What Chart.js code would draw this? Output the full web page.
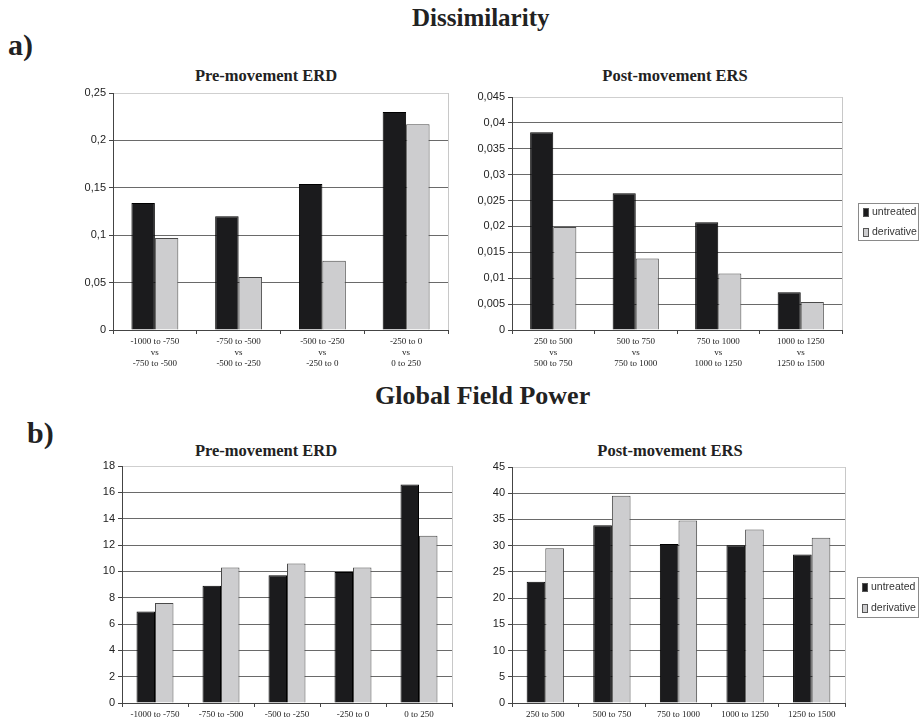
<!DOCTYPE html>
<html>
<head>
<meta charset="utf-8">
<script src="https://cdn.jsdelivr.net/npm/chart.js@4/dist/chart.umd.min.js"></script>
<style>
  body { margin: 0; background: #fff; }
  #page { position: relative; width: 920px; height: 717px; overflow: hidden; }
  canvas { position: absolute; }
  .head { position: absolute; font-family: "Liberation Serif", serif; font-weight: bold; color: #222; white-space: nowrap; }
  .sub { font-size: 16.5px; line-height: 18px; width: 240px; text-align: center; }
  .panel { font-size: 30px; line-height: 30px; }
</style>
</head>
<body>
<div id="page">
  <div class="head" style="left:412px; top:5px; font-size:25px; line-height:25px;">Dissimilarity</div>
  <div class="head panel" style="left:8px; top:30px;">a)</div>
  <div class="head" style="left:375px; top:383px; font-size:26px; line-height:26px;">Global Field Power</div>
  <div class="head panel" style="left:27px; top:418px;">b)</div>

  <div class="head sub" style="left:146px; top:67px;">Pre-movement ERD</div>
  <div class="head sub" style="left:555px; top:67px;">Post-movement ERS</div>
  <div class="head sub" style="left:146px; top:442px;">Pre-movement ERD</div>
  <div class="head sub" style="left:550px; top:442px;">Post-movement ERS</div>

  <canvas id="aPre" width="400" height="315" style="left:60px; top:55px;"></canvas>
  <canvas id="aPost" width="460" height="315" style="left:460px; top:55px;"></canvas>
  <canvas id="bPre" width="400" height="297" style="left:60px; top:420px;"></canvas>
  <canvas id="bPost" width="460" height="297" style="left:460px; top:420px;"></canvas>
</div>

<script>
// ---- data ----
const seriesNames = ["untreated", "derivative"];

const aPreLabels = [
  ["-1000 to -750", "vs", "-750 to -500"],
  ["-750 to -500", "vs", "-500 to -250"],
  ["-500 to -250", "vs", "-250 to 0"],
  ["-250 to 0", "vs", "0 to 250"]
];
const aPreUntreated = [0.134, 0.120, 0.154, 0.230];
const aPreDerivative = [0.097, 0.056, 0.073, 0.217];

const aPostLabels = [
  ["250 to 500", "vs", "500 to 750"],
  ["500 to 750", "vs", "750 to 1000"],
  ["750 to 1000", "vs", "1000 to 1250"],
  ["1000 to 1250", "vs", "1250 to 1500"]
];
const aPostUntreated = [0.0382, 0.0264, 0.0208, 0.0073];
const aPostDerivative = [0.0199, 0.0138, 0.0109, 0.0054];

const bPreLabels = ["-1000 to -750", "-750 to -500", "-500 to -250", "-250 to 0", "0 to 250"];
const bPreUntreated = [6.95, 8.9, 9.7, 9.95, 16.6];
const bPreDerivative = [7.6, 10.3, 10.6, 10.3, 12.7];

const bPostLabels = ["250 to 500", "500 to 750", "750 to 1000", "1000 to 1250", "1250 to 1500"];
const bPostUntreated = [23.1, 33.9, 30.3, 30.1, 28.3];
const bPostDerivative = [29.5, 39.5, 34.8, 33.1, 31.5];

// ---- plugins ----
// light right border of the plot, like the old spreadsheet charts
const plotFrame = {
  id: "plotFrame",
  afterDraw(chart) {
    const a = chart.chartArea;
    const ctx = chart.ctx;
    ctx.save();
    ctx.strokeStyle = "#c8c8c8";
    ctx.lineWidth = 1;
    ctx.beginPath();
    ctx.moveTo(Math.round(a.right) + 0.5, a.top);
    ctx.lineTo(Math.round(a.right) + 0.5, a.bottom);
    ctx.stroke();
    ctx.restore();
  }
};

// boxed legend at the right
const boxLegend = {
  id: "boxLegend",
  afterDraw(chart, args, opts) {
    if (!opts.show) return;
    const ctx = chart.ctx;
    ctx.save();
    ctx.strokeStyle = "#8a8a8a";
    ctx.lineWidth = 1;
    ctx.strokeRect(opts.left + 0.5, opts.top + 0.5, opts.width, opts.height);
    ctx.font = '10.5px "Liberation Sans", Arial, sans-serif';
    ctx.textBaseline = "middle";
    chart.data.datasets.forEach((ds, i) => {
      const y = opts.top + opts.first + i * opts.gap;
      ctx.fillStyle = ds.backgroundColor;
      ctx.fillRect(opts.left + 5, y - 4, 6, 9);
      ctx.strokeStyle = "#555";
      ctx.strokeRect(opts.left + 5.5, y - 3.5, 5, 8);
      ctx.fillStyle = "#333";
      ctx.fillText(ds.label, opts.left + 14, y + 0.5);
    });
    ctx.restore();
  }
};

function commaFormat(v) {
  return String(+v.toFixed(4)).replace(".", ",");
}

function makeChart(id, labels, untreated, derivative, cfg) {
  const ctx = document.getElementById(id).getContext("2d");
  return new Chart(ctx, {
    type: "bar",
    data: {
      labels: labels,
      datasets: [
        { label: seriesNames[0], data: untreated, backgroundColor: "#1b1b1d", borderColor: "#000", borderWidth: 1 },
        { label: seriesNames[1], data: derivative, backgroundColor: "#cdcdcf", borderColor: "#4a4a4a", borderWidth: 1 }
      ]
    },
    options: {
      responsive: false,
      animation: false,
      layout: { padding: { left: 0, right: cfg.padRight, top: cfg.padTop, bottom: 0 } },
      datasets: { bar: { categoryPercentage: 0.56, barPercentage: 1 } },
      scales: {
        x: {
          afterFit: s => { s.height = cfg.xHeight; },
          grid: { drawOnChartArea: false, offset: true, tickLength: 4, tickColor: "#444" },
          border: { color: "#444" },
          ticks: {
            autoSkip: false, maxRotation: 0, padding: 2, color: "#222",
            font: { family: '"Liberation Serif", serif', size: 9, lineHeight: 1.25 }
          }
        },
        y: {
          min: 0, max: cfg.max,
          afterFit: s => { s.width = cfg.yWidth; },
          grid: {
            color: c => (c.tick && Math.abs(c.tick.value - cfg.max) < 1e-9) ? "#cfcfcf" : "#6a6a6a",
            tickLength: 4, tickColor: "#444"
          },
          border: { color: "#444" },
          ticks: {
            stepSize: cfg.step, padding: 3, color: "#222",
            font: { family: '"Liberation Sans", Arial, sans-serif', size: 11 },
            callback: v => cfg.comma ? commaFormat(v) : String(v)
          }
        }
      },
      plugins: {
        legend: { display: false },
        tooltip: { enabled: false },
        title: { display: false },
        boxLegend: cfg.legend || { show: false }
      }
    },
    plugins: [plotFrame, boxLegend]
  });
}

makeChart("aPre", aPreLabels, aPreUntreated, aPreDerivative, {
  max: 0.25, step: 0.05, comma: true,
  padTop: 38, padRight: 12, yWidth: 53, xHeight: 40
});

makeChart("aPost", aPostLabels, aPostUntreated, aPostDerivative, {
  max: 0.045, step: 0.005, comma: true,
  padTop: 42, padRight: 78, yWidth: 52, xHeight: 40,
  legend: { show: true, left: 398, top: 148, width: 60, height: 37, first: 9, gap: 20 }
});

makeChart("bPre", bPreLabels, bPreUntreated, bPreDerivative, {
  max: 18, step: 2, comma: false,
  padTop: 46, padRight: 8, yWidth: 62, xHeight: 14
});

makeChart("bPost", bPostLabels, bPostUntreated, bPostDerivative, {
  max: 45, step: 5, comma: false,
  padTop: 47, padRight: 75, yWidth: 52, xHeight: 14,
  legend: { show: true, left: 397, top: 157, width: 61, height: 40, first: 10, gap: 21 }
});
</script>
</body>
</html>
